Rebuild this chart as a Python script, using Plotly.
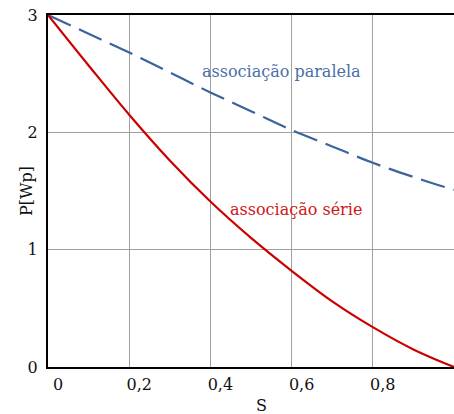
import plotly.graph_objects as go

S = [0.0, 0.1, 0.2, 0.3, 0.4, 0.5, 0.6, 0.7, 0.8, 0.9, 1.0]
P_paralela = [3.0, 2.84, 2.68, 2.51, 2.34, 2.18, 2.02, 1.88, 1.74, 1.62, 1.51]
P_serie = [3.0, 2.57, 2.15, 1.76, 1.41, 1.10, 0.82, 0.56, 0.34, 0.15, 0.0]

x_ticks = [0, 0.2, 0.4, 0.6, 0.8, 1.0]
y_ticks = [0, 1, 2, 3]

FONT = "DejaVu Serif"
BLUE = "#3a659c"
RED = "#cc0000"

fig = go.Figure()
fig.add_trace(go.Scatter(x=S, y=P_paralela, mode="lines", line_shape="spline",
                         line=dict(color=BLUE, width=2.2, dash="25px,9px"),
                         showlegend=False, hoverinfo="skip"))
fig.add_trace(go.Scatter(x=S, y=P_serie, mode="lines", line_shape="spline",
                         line=dict(color=RED, width=2.2),
                         showlegend=False, hoverinfo="skip"))

fig.add_annotation(x=0.574, y=2.52, text="associação paralela", showarrow=False,
                   font=dict(family=FONT, size=16, color="#4a6fa8"))
fig.add_annotation(x=0.61, y=1.34, text="associação série", showarrow=False,
                   font=dict(family=FONT, size=16, color="#d01515"))
# axis titles
fig.add_annotation(xref="paper", yref="paper", x=0, y=0.5, xshift=-22,
                   text="P[Wp]", textangle=-90, showarrow=False,
                   xanchor="center", yanchor="middle",
                   font=dict(family=FONT, size=16, color="#111"))
fig.add_annotation(xref="paper", yref="paper", x=0.5, y=0, xshift=10, yshift=-38,
                   text="S", showarrow=False, xanchor="center", yanchor="middle",
                   font=dict(family=FONT, size=16, color="#111"))

fig.update_layout(
    width=454, height=414,
    margin=dict(l=48, r=0, t=15, b=47),
    paper_bgcolor="white", plot_bgcolor="white",
    separators=", ",
    font=dict(family=FONT, size=16, color="#111"),
)
fig.update_xaxes(range=[0, 1], tickvals=x_ticks, tickformat="~g",
                 showgrid=True, gridcolor="#a0a0a0", gridwidth=1,
                 showline=True, linecolor="black", linewidth=2, mirror=True,
                 ticks="", ticklabelshift=10, ticklabelstandoff=2,
                 zeroline=False)
fig.update_yaxes(range=[0, 3], tickvals=y_ticks,
                 showgrid=True, gridcolor="#a0a0a0", gridwidth=1,
                 showline=True, linecolor="black", linewidth=2,
                 ticks="", ticklabelstandoff=5, zeroline=False)

fig.write_html("out.html")
